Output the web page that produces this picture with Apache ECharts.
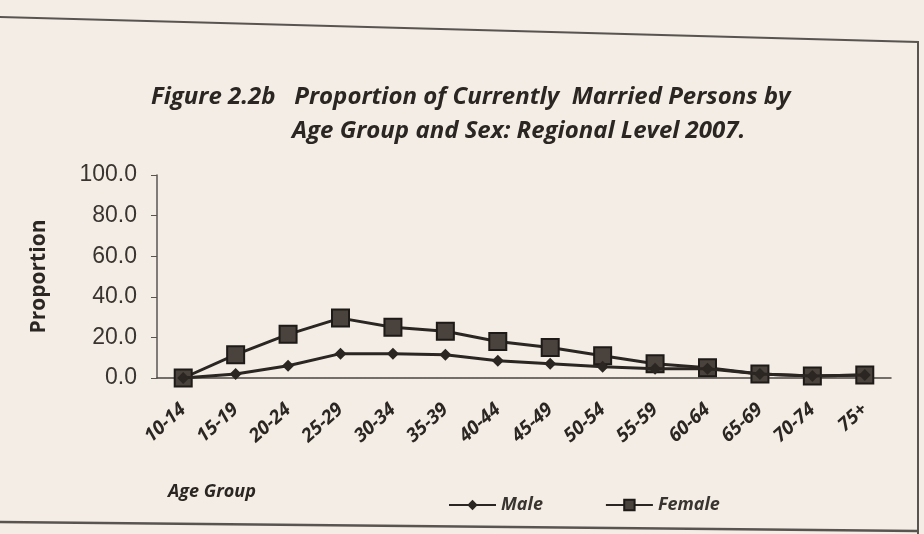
<!DOCTYPE html>
<html>
<head>
<meta charset="utf-8">
<script src="https://cdn.jsdelivr.net/npm/echarts@6/dist/echarts.min.js"></script>
<style>
  html, body { margin: 0; padding: 0; background: #f3ede5; }
  #chart { width: 924px; height: 534px; }
</style>
</head>
<body>
<div id="chart"></div>
<script>
// age groups on the x axis
const ageGroups = ['10-14', '15-19', '20-24', '25-29', '30-34', '35-39', '40-44',
  '45-49', '50-54', '55-59', '60-64', '65-69', '70-74', '75+']

// proportions
const maleValues = [0, 2, 6, 12, 12, 11.5, 8.5, 7, 5.5, 4.5, 4.5, 2, 1, 1.5]
const femaleValues = [0, 11.5, 21.5, 29.5, 25, 23, 18, 15, 11, 7, 5, 2, 1, 1.5]

const yTicks = [0, 20, 40, 60, 80, 100]

const ink = '#2b2622'

const chart = echarts.init(document.getElementById('chart'), null, { renderer: 'canvas' })

const titleStyle = {
  fontFamily: 'Open Sans',
  fontStyle: 'italic',
  fontWeight: 'bold',
  fontSize: 24,
  color: ink
}

const option = {
  backgroundColor: '#f3ede5',
  animation: false,
  title: [
    {
      text: 'Figure 2.2b   Proportion of Currently  Married Persons by',
      left: 146,
      top: 80,
      textStyle: titleStyle
    },
    {
      text: 'Age Group and Sex: Regional Level 2007.',
      left: 287,
      top: 114,
      textStyle: titleStyle
    }
  ],
  grid: {
    left: 157,
    right: 33,
    top: 175,
    bottom: 156
  },
  legend: {
    left: 443,
    top: 491,
    itemGap: 62,
    itemWidth: 47,
    itemHeight: 13,
    textStyle: {
      fontFamily: 'Open Sans',
      fontStyle: 'italic',
      fontWeight: 'bold',
      fontSize: 18,
      color: '#3a3430'
    },
    data: ['Male', 'Female']
  },
  xAxis: {
    type: 'category',
    data: ageGroups,
    axisLine: {
      lineStyle: {
        color: '#4a4440',
        width: 1.5
      }
    },
    axisTick: {
      length: 6,
      lineStyle: {
        color: '#4a4440'
      }
    },
    axisLabel: {
      rotate: 42,
      margin: 29,
      fontFamily: 'Open Sans',
      fontStyle: 'italic',
      fontWeight: 'bold',
      fontSize: 19,
      color: ink
    }
  },
  yAxis: {
    type: 'value',
    min: yTicks[0],
    max: yTicks[yTicks.length - 1],
    interval: 20,
    name: 'Proportion',
    nameLocation: 'middle',
    nameGap: 107,
    nameTextStyle: {
      fontFamily: 'Open Sans',
      fontWeight: 'bold',
      fontSize: 21,
      color: ink
    },
    axisLine: {
      show: true,
      lineStyle: {
        color: '#5a5450',
        width: 1.5
      }
    },
    axisTick: {
      show: true,
      length: 6,
      lineStyle: {
        color: '#5a5450'
      }
    },
    axisLabel: {
      margin: 20,
      fontFamily: 'Liberation Sans',
      fontSize: 23,
      color: '#3a3430',
      formatter: v => v.toFixed(1)
    },
    splitLine: {
      show: false
    }
  },
  series: [
    {
      name: 'Male',
      type: 'line',
      data: maleValues,
      symbol: 'diamond',
      symbolSize: 12,
      itemStyle: {
        color: ink
      },
      lineStyle: {
        color: ink,
        width: 3
      },
      z: 3
    },
    {
      name: 'Female',
      type: 'line',
      data: femaleValues,
      symbol: 'rect',
      symbolSize: 17,
      itemStyle: {
        color: '#4a423c',
        borderColor: '#1e1a17',
        borderWidth: 2
      },
      lineStyle: {
        color: ink,
        width: 3
      },
      z: 2
    }
  ],
  graphic: [
    // frame of the figure (the left side runs off the photo)
    {
      type: 'polyline',
      shape: { points: [[0, 17], [918, 42], [918, 534]] },
      style: {
        fill: null,
        stroke: '#5a5450',
        lineWidth: 2
      },
      silent: true
    },
    {
      type: 'line',
      shape: { x1: 0, y1: 522, x2: 918, y2: 531 },
      style: {
        stroke: '#5a5450',
        lineWidth: 2.5
      },
      silent: true
    },
    {
      type: 'text',
      left: 168,
      top: 483,
      style: {
        text: 'Age Group',
        fontFamily: 'Open Sans',
        fontStyle: 'italic',
        fontWeight: 'bold',
        fontSize: 18,
        fill: ink
      }
    }
  ]
}

chart.setOption(option)
</script>
</body>
</html>
